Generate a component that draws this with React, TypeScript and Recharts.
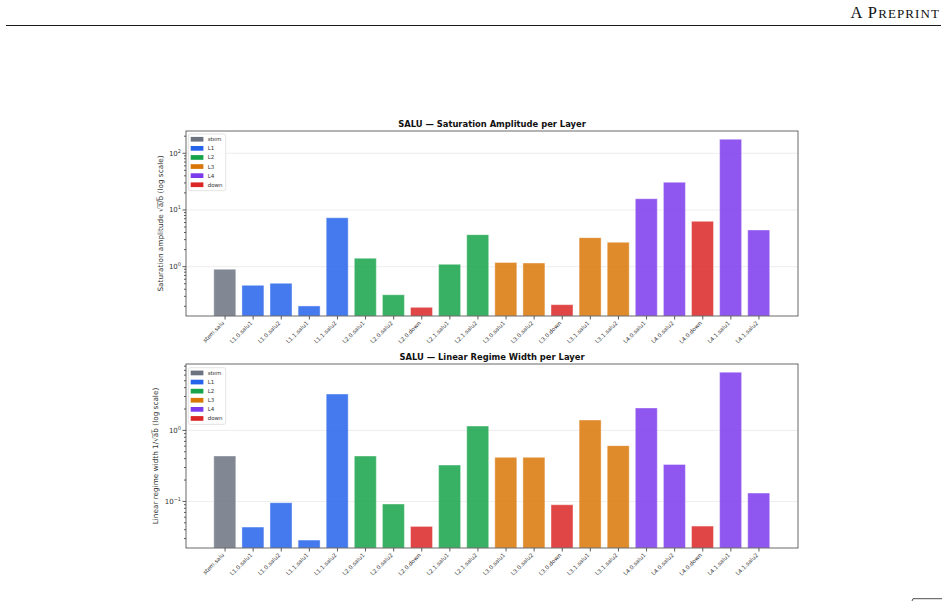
import { Bar, BarChart, CartesianGrid, Cell, XAxis, YAxis } from 'recharts';

const layerNames = [
  'stem.salu', 'L1.0.salu1', 'L1.0.salu2', 'L1.1.salu1', 'L1.1.salu2',
  'L2.0.salu1', 'L2.0.salu2', 'L2.0.down', 'L2.1.salu1', 'L2.1.salu2',
  'L3.0.salu1', 'L3.0.salu2', 'L3.0.down', 'L3.1.salu1', 'L3.1.salu2',
  'L4.0.salu1', 'L4.0.salu2', 'L4.0.down', 'L4.1.salu1', 'L4.1.salu2',
];
const layerGroup = [
  'stem', 'L1', 'L1', 'L1', 'L1',
  'L2', 'L2', 'down', 'L2', 'L2',
  'L3', 'L3', 'down', 'L3', 'L3',
  'L4', 'L4', 'down', 'L4', 'L4',
];
// sqrt(a/b)
const satAmplitude = [
  0.9, 0.47, 0.51, 0.203, 7.3,
  1.41, 0.32, 0.192, 1.1, 3.67,
  1.19, 1.16, 0.214, 3.25, 2.69,
  15.8, 30.8, 6.3, 177, 4.44,
];
// 1/sqrt(ab)
const linearWidth = [
  0.436, 0.0436, 0.096, 0.0286, 3.25,
  0.436, 0.092, 0.0445, 0.325, 1.15,
  0.417, 0.417, 0.0898, 1.4, 0.61,
  2.07, 0.332, 0.045, 6.6, 0.131,
];
const legendGroups = ['stem', 'L1', 'L2', 'L3', 'L4', 'down'];
const topTicks = [0.2, 0.3, 0.4, 0.5, 0.6, 0.7, 0.8, 0.9, 1, 2, 3, 4, 5, 6, 7, 8, 9, 10, 20, 30, 40, 50, 60, 70, 80, 90, 100, 200];
const bottomTicks = [0.03, 0.04, 0.05, 0.06, 0.07, 0.08, 0.09, 0.1, 0.2, 0.3, 0.4, 0.5, 0.6, 0.7, 0.8, 0.9, 1, 2, 3, 4, 5, 6, 7, 8];

const groupColors: Record<string, string> = {
  stem: '#6b7280',
  L1: '#2563eb',
  L2: '#16a34a',
  L3: '#d97706',
  L4: '#7c3aed',
  down: '#dc2626',
};

const FONT = '"DejaVu Sans", sans-serif';
const INK = '#333';

const isDecade = (v: number) => Math.abs(Math.log10(v) - Math.round(Math.log10(v))) < 1e-6;

function LogTick({ x, y, payload }: any) {
  const v = payload.value as number;
  const major = isDecade(v);
  const exp = Math.round(Math.log10(v));
  return (
    <g>
      <line x1={x - (major ? 3.5 : 2)} x2={x} y1={y} y2={y} stroke={INK} strokeWidth={0.8} />
      {major && (
        <text x={x - 5} y={y + 2.5} textAnchor="end" fontSize={7} fontFamily={FONT} fill={INK}>
          10
          <tspan dy={-3.2} fontSize={5}>{exp < 0 ? '\u2212' + Math.abs(exp) : exp}</tspan>
        </text>
      )}
    </g>
  );
}

function NameTick({ x, y, payload }: any) {
  return (
    <g transform={`translate(${x},${y})`}>
      <line x1={0} x2={0} y1={0} y2={3.5} stroke={INK} strokeWidth={0.8} />
      <text transform="translate(-0.5,7.5) rotate(-45)" textAnchor="end" fontSize={5.6} fontFamily={FONT} fill={INK}>
        {payload.value}
      </text>
    </g>
  );
}

// grid only at the decades (the axis ticks also hold the minor ones)
const decadeLines = (decades: number[], domain: [number, number]) => ({ yAxis, offset }: any) => {
  if (typeof yAxis?.scale === 'function') return decades.map((d) => yAxis.scale(d));
  const lo = Math.log10(domain[0]);
  const hi = Math.log10(domain[1]);
  return decades.map((d) => offset.top + (offset.height * (hi - Math.log10(d))) / (hi - lo));
};

function LayerBars({ values, domain, ticks, decades, top, marginTop, marginBottom }: {
  values: number[]; domain: [number, number]; ticks: number[]; decades: number[];
  top: number; marginTop: number; marginBottom: number;
}) {
  const data = layerNames.map((name, i) => ({ name, value: values[i], group: layerGroup[i] }));
  return (
    <div style={{ position: 'absolute', left: 0, top }}>
      <BarChart
        width={948}
        height={260}
        data={data}
        margin={{ top: marginTop, right: 150, bottom: marginBottom, left: 0 }}
        barCategoryGap="10%"
      >
        <CartesianGrid
          vertical={false}
          stroke="#e8e8e8"
          strokeWidth={0.8}
          horizontalCoordinatesGenerator={decadeLines(decades, domain)}
        />
        <XAxis
          dataKey="name"
          interval={0}
          height={40}
          axisLine={false}
          tickLine={false}
          tickSize={0}
          tickMargin={0}
          padding={{ left: 25, right: 25 }}
          tick={<NameTick />}
        />
        <YAxis
          scale="log"
          domain={domain}
          allowDataOverflow
          ticks={ticks}
          interval={0}
          width={186}
          axisLine={false}
          tickLine={false}
          tickSize={0}
          tickMargin={0}
          tick={<LogTick />}
        />
        <Bar dataKey="value" isAnimationActive={false} stroke="#ffffff" strokeOpacity={0.5} strokeWidth={0.8}>
          {data.map((d) => (
            <Cell key={d.name} fill={groupColors[d.group]} fillOpacity={0.85} />
          ))}
        </Bar>
      </BarChart>
    </div>
  );
}

function LegendBox({ x, y }: { x: number; y: number }) {
  return (
    <g>
      <rect x={x} y={y} width={37.4} height={56.7} rx={2} fill="#fff" fillOpacity={0.85} stroke="#dcdcdc" strokeWidth={0.8} />
      {legendGroups.map((g, i) => (
        <g key={g}>
          <rect x={x + 2.4} y={y + 5.3 + i * 9.1 - 2.4} width={12.7} height={4.7} fill={groupColors[g]} />
          <text x={x + 19.4} y={y + 5.3 + i * 9.1 + 1.9} fontSize={5.5} fontFamily={FONT} fill={INK}>{g}</text>
        </g>
      ))}
    </g>
  );
}

export default function App() {
  return (
    <div style={{ position: 'absolute', left: 0, top: 0, width: 948, height: 602, background: '#fff', overflow: 'hidden' }}>
      <LayerBars values={satAmplitude} domain={[0.135, 247]} ticks={topTicks} decades={[1, 10, 100]} top={100} marginTop={31} marginBottom={4} />
      <LayerBars values={linearWidth} domain={[0.0221, 8.6]} ticks={bottomTicks} decades={[0.1, 1]} top={340} marginTop={24} marginBottom={12} />
      <svg width={948} height={602} style={{ position: 'absolute', left: 0, top: 0, pointerEvents: 'none' }}>
        <text x={940} y={18.3} textAnchor="end" fontFamily='"Liberation Serif", serif' fontSize={16.5} letterSpacing={1.1} fill="#111">
          A P<tspan fontSize={13}>REPRINT</tspan>
        </text>
        <line x1={6} x2={941} y1={25.5} y2={25.5} stroke="#000" strokeWidth={0.9} />

        <text x={492} y={127.2} textAnchor="middle" fontSize={8.4} fontWeight="bold" fontFamily={FONT} fill="#111">
          SALU — Saturation Amplitude per Layer
        </text>
        <rect x={186} y={131} width={612} height={185} fill="none" stroke="#444" strokeWidth={0.8} />
        <text transform="translate(163.3,223.5) rotate(-90)" textAnchor="middle" fontSize={7.3} fontFamily={FONT} fill={INK}>
          Saturation amplitude √a̅/̅b̅ (log scale)
        </text>
        <LegendBox x={188.3} y={134} />

        <text x={492} y={360.2} textAnchor="middle" fontSize={8.4} fontWeight="bold" fontFamily={FONT} fill="#111">
          SALU — Linear Regime Width per Layer
        </text>
        <rect x={186} y={364} width={612} height={184} fill="none" stroke="#444" strokeWidth={0.8} />
        <text transform="translate(158.3,456) rotate(-90)" textAnchor="middle" fontSize={7.3} fontFamily={FONT} fill={INK}>
          Linear regime width 1/√a̅b̅ (log scale)
        </text>
        <LegendBox x={188.3} y={367.7} />

        <line x1={913} x2={942} y1={598.7} y2={598.7} stroke="#222" strokeWidth={0.8} />
        <line x1={912} x2={913} y1={601} y2={598.7} stroke="#222" strokeWidth={0.8} />
      </svg>
    </div>
  );
}
